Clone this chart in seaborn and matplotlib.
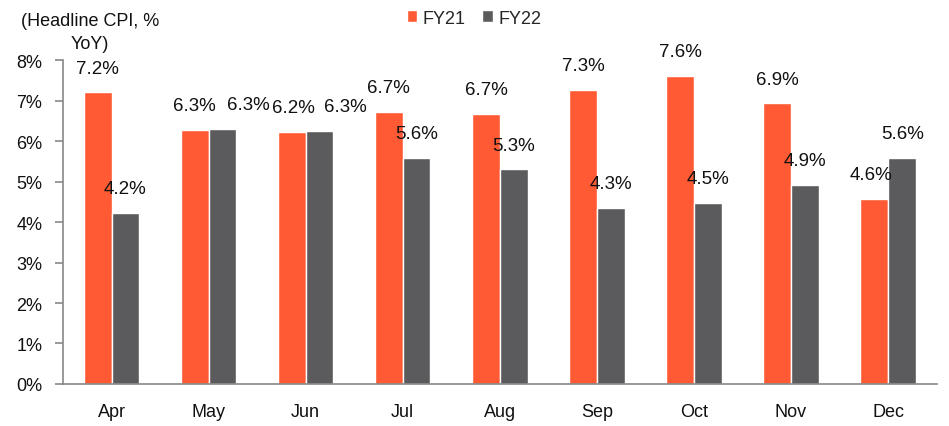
import matplotlib
matplotlib.use("Agg")
import matplotlib.pyplot as plt
import seaborn as sns
import pandas as pd
import numpy as np
from matplotlib.ticker import FixedLocator
from matplotlib.patches import Patch

months = ["Apr", "May", "Jun", "Jul", "Aug", "Sep", "Oct", "Nov", "Dec"]
fy21 = [7.2, 6.27, 6.22, 6.72, 6.67, 7.27, 7.6, 6.93, 4.58]
fy22 = [4.22, 6.3, 6.26, 5.59, 5.3, 4.35, 4.48, 4.91, 5.59]
series = ["FY21", "FY22"]
colors = ["#FF5A33", "#5B5B5D"]

df = pd.DataFrame({
    "month": months * 2,
    "value": fy21 + fy22,
    "series": [series[0]] * len(months) + [series[1]] * len(months),
})

# horizontal nudges (in category units) for labels that would collide
label_dx = {("FY22", "May"): 0.27, ("FY22", "Jun"): 0.27, ("FY21", "Jun"): 0.02,
            ("FY21", "Dec"): -0.03, ("FY22", "Dec"): 0.01}

sns.set_style("white")
plt.rcParams["font.family"] = ["Liberation Sans", "DejaVu Sans"]

fig = plt.figure(figsize=(9.49, 4.27), dpi=100)
ax = fig.add_axes([0.0664, 0.0984, 0.9206, 0.7586])

sns.barplot(data=df, x="month", y="value", hue="series", order=months,
            hue_order=series, palette=colors, width=0.57, saturation=1,
            ax=ax, legend=False)

for s, container in zip(series, ax.containers):
    for m, bar in zip(months, container):
        h = bar.get_height()
        dx = label_dx.get((s, m), 0.0)
        ax.text(bar.get_x() + bar.get_width() / 2 + dx, h + 0.6, f"{h:.1f}%",
                ha="center", va="center", fontsize=13.5, color="#111111")

ax.set_ylim(0, 8)
ax.set_xlim(-0.5, len(months) - 0.5)
ax.set_yticks(np.arange(0, 9, 1))
ax.set_yticklabels([f"{i}%" for i in range(9)])
ax.set_xlabel("")
ax.set_ylabel("")
ax.tick_params(axis="x", which="major", length=0, pad=14, labelsize=13, labelcolor="#111111")
ax.xaxis.set_minor_locator(FixedLocator(np.arange(-0.5, len(months), 1)))
ax.tick_params(axis="x", which="minor", length=5, width=1.2, color="#888888", direction="out")
ax.tick_params(axis="y", which="major", length=6, width=1.2, color="#888888", direction="out",
               labelsize=13, pad=9, left=True, labelcolor="#111111")
for s in ["top", "right"]:
    ax.spines[s].set_visible(False)
for s in ["left", "bottom"]:
    ax.spines[s].set_color("#888888")
    ax.spines[s].set_linewidth(1.2)

fig.text(90 / 949, 1 - 33 / 427, "(Headline CPI, %\nYoY)", ha="center", va="center",
         fontsize=13, linespacing=1.45, color="#111111")

handles = [Patch(facecolor=c, label=s) for c, s in zip(colors, series)]
fig.legend(handles=handles, loc="center", bbox_to_anchor=(474 / 949, 1 - 19 / 427), ncol=2,
           frameon=False, fontsize=13, handlelength=0.6, handleheight=0.6,
           handletextpad=0.3, columnspacing=0.9, borderpad=0)

fig.savefig("out.png", dpi=100)
